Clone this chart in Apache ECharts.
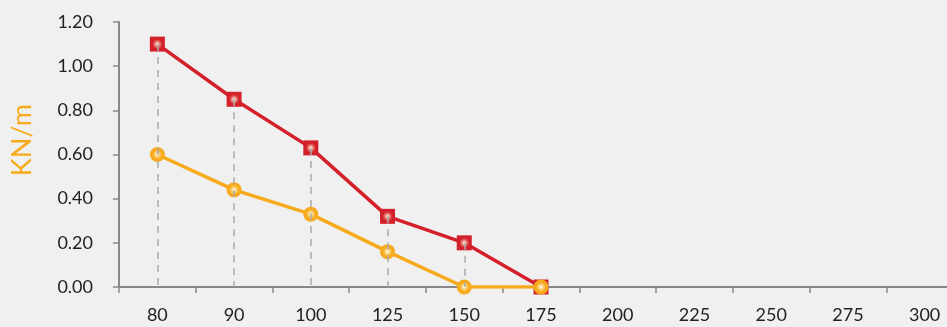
<!DOCTYPE html>
<html>
<head>
<meta charset="utf-8">
<script src="https://cdn.jsdelivr.net/npm/echarts@6/dist/echarts.min.js"></script>
<style>
  html, body { margin: 0; padding: 0; background: #f0f0f0; }
  #chart { width: 947px; height: 327px; }
</style>
</head>
<body>
<div id="chart"></div>
<script>
// Categories along the bottom axis
const categories = ['80', '90', '100', '125', '150', '175', '200', '225', '250', '275', '300'];
// Load values in KN/m
const redValues = [1.10, 0.85, 0.63, 0.32, 0.20, 0.00];
const orangeValues = [0.60, 0.44, 0.33, 0.16, 0.00, 0.00];
const yTicks = { min: 0, max: 1.2, interval: 0.2 };
const yName = 'KN/m';

const RED = '#d4202a';
const ORANGE = '#f7aa1c';
const font = 'Lato, "DejaVu Sans", sans-serif';

function glow(base, mid) {
  return {
    type: 'radial', x: 0.5, y: 0.5, r: 0.5,
    colorStops: [
      { offset: 0, color: '#ffffff' },
      { offset: 0.3, color: mid },
      { offset: 0.65, color: base },
      { offset: 1, color: base }
    ]
  };
}

// Drop lines from the upper point of each category down to zero
const dropLines = redValues
  .map((v, i) => ({ v: Math.max(v, orangeValues[i]), i }))
  .filter(d => d.v > 0)
  .map(d => [{ coord: [d.i, d.v] }, { coord: [d.i, 0] }]);

const chart = echarts.init(document.getElementById('chart'));
chart.setOption({
  backgroundColor: '#f0f0f0',
  animation: false,
  grid: { left: 119, top: 22, bottom: 40, width: 844, outerBoundsMode: 'none', containLabel: false },
  graphic: [{
    type: 'text',
    left: 9,
    top: 104,
    rotation: Math.PI / 2,
    style: {
      text: yName,
      fill: ORANGE,
      font: '27px ' + font
    }
  }],
  xAxis: {
    type: 'category',
    data: categories,
    boundaryGap: true,
    axisLine: { lineStyle: { color: '#888', width: 2 } },
    axisTick: { show: true, length: 6, lineStyle: { color: '#888', width: 1.5 } },
    axisLabel: { color: '#222', fontSize: 18, fontFamily: font, margin: 19 },
    splitLine: { show: false }
  },
  yAxis: {
    type: 'value',
    min: yTicks.min, max: yTicks.max, interval: yTicks.interval,
    axisLine: { show: true, lineStyle: { color: '#888', width: 2 } },
    axisTick: { show: true, length: 6, lineStyle: { color: '#888', width: 1.5 } },
    axisLabel: {
      color: '#222', fontSize: 18, fontFamily: font, margin: 26,
      formatter: v => v.toFixed(2)
    },
    splitLine: { show: false }
  },
  series: [
    {
      type: 'line',
      data: [],
      z: 1,
      silent: true,
      markLine: {
        symbol: 'none',
        silent: true,
        label: { show: false },
        lineStyle: { color: '#aaa', type: [7, 6], width: 1.5 },
        data: dropLines
      }
    },
    {
      type: 'line',
      data: redValues,
      z: 3,
      symbol: 'rect',
      symbolSize: 15,
      lineStyle: { color: RED, width: 3.5 },
      itemStyle: { color: glow(RED, '#ea8a7c'), borderWidth: 0 }
    },
    {
      type: 'line',
      data: orangeValues,
      z: 4,
      symbol: 'circle',
      symbolSize: 15,
      lineStyle: { color: ORANGE, width: 3.5 },
      itemStyle: { color: glow(ORANGE, '#fcd27a'), borderWidth: 0 }
    }
  ]
});
</script>
</body>
</html>
